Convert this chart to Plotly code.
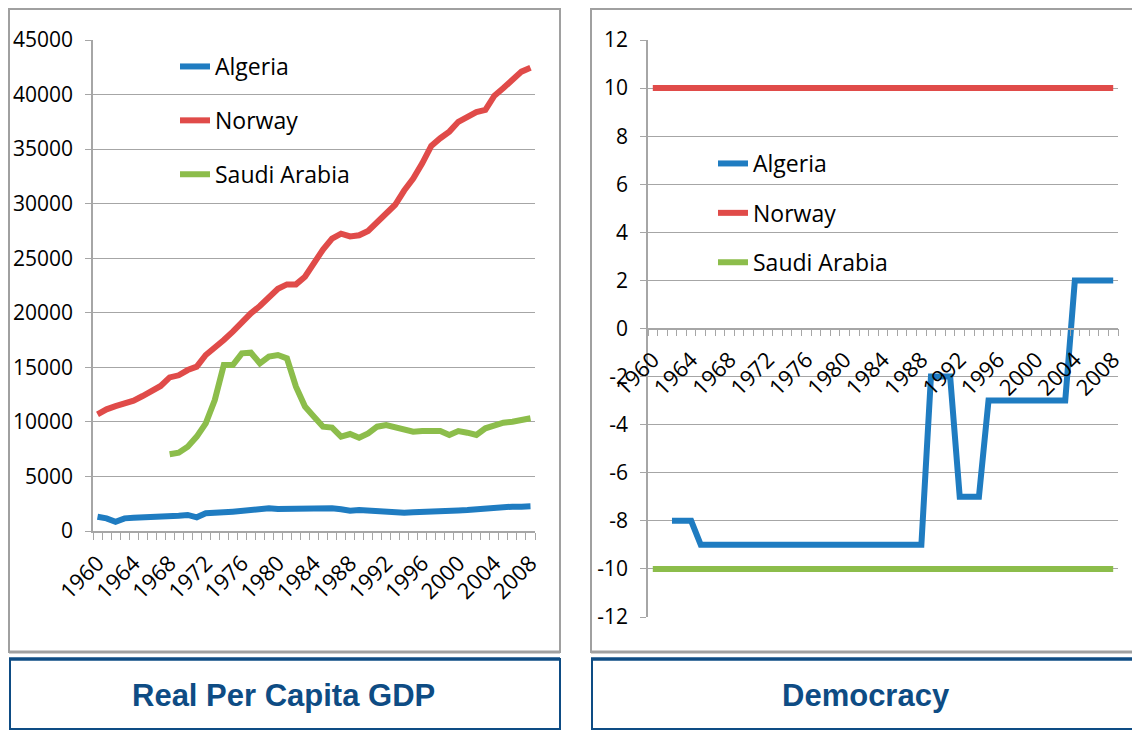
import plotly.graph_objects as go

W, H = 1140, 730
OFF = 8  # page body margin, figure starts at (8, 8) in the window

years = list(range(1960, 2009))
tick_years = list(range(1960, 2009, 4))

# real per capita GDP
gdp_algeria = [
    1310, 1160, 850, 1160, 1220, 1250, 1220, 1220, 1310, 1400,
    1470, 1250, 1620, 1620, 1710, 1770, 1860, 1920, 2010, 2080,
    2010, 2010, 2080, 2110, 2140, 2140, 2080, 1990, 1860, 1920,
    1860, 1800, 1800, 1710, 1680, 1710, 1770, 1770, 1830, 1860,
    1890, 1920, 1990, 2080, 2170, 2200, 2230, 2230, 2260,
]
gdp_norway = [
    10690, 11150, 11450, 11640, 11950, 12370, 12860, 13290, 14080, 14270,
    14750, 15060, 16130, 16740, 17500, 18270, 19180, 19950, 20620, 21400,
    22200, 22600, 22600, 23300, 24600, 25800, 26800, 27250, 27000, 27100,
    27500, 28300, 29200, 29900, 31200, 32300, 33700, 35300, 36000, 36600,
    37500, 38000, 38400, 38600, 39900, 40600, 41300, 42100, 42450,
]
saudi_years = list(range(1968, 2009))
gdp_saudi = [
    7030, 7180, 7730, 8650, 9870, 12000, 15210, 15210, 16280, 16340,
    15370, 15980, 16130, 15820, 13230, 11400, 10480, 9560, 9480, 8650,
    8890, 8550, 8950, 9560, 9710, 9500, 9320, 9100, 9160, 9190,
    9160, 8800, 9160, 9010, 8800, 9410, 9710, 9930, 10020, 10110,
    10330,
]

# democracy score
algeria_years = list(range(1962, 2009))
dem_algeria = [-8, -8, -8] + [-9] * 24 + [-2] * 3 + [-7] * 3 + [-3] * 9 + [2] * 5
dem_norway = [10] * len(years)
dem_saudi = [-10] * len(years)

gdp_ticks = list(range(0, 45001, 5000))
dem_ticks = list(range(-12, 13, 2))

names = ["Algeria", "Norway", "Saudi Arabia"]
colors = ["#1F7CC1", "#E04B49", "#8CBD4B"]

FONT = "Open Sans, Lato, sans-serif"
GRID = "#A6A6A6"
NAVY = "#0E4C84"


def px_x(x):
    return (x - OFF) / W


def px_y(y):
    return 1 - (y - OFF) / H


fig = go.Figure()

gdp_series = [(years, gdp_algeria), (years, gdp_norway), (saudi_years, gdp_saudi)]
for name, color, (xs, ys) in zip(names, colors, gdp_series):
    fig.add_trace(go.Scatter(
        x=xs, y=ys, name=name, mode="lines",
        line=dict(color=color, width=6),
        xaxis="x", yaxis="y", legend="legend", legendgroup="l" + name,
    ))

dem_series = [(algeria_years, dem_algeria), (years, dem_norway), (years, dem_saudi)]
for name, color, (xs, ys) in zip(names, colors, dem_series):
    fig.add_trace(go.Scatter(
        x=xs, y=ys, name=name, mode="lines",
        line=dict(color=color, width=6),
        xaxis="x2", yaxis="y2", legend="legend2", legendgroup="r" + name,
    ))

xcommon = dict(
    range=[1959.5, 2008.5],
    tickmode="array", tickvals=tick_years, ticktext=[str(t) for t in tick_years],
    tickangle=-45, ticks="", automargin=False, ticklabelstandoff=9,
    tickfont=dict(family=FONT, size=22, color="black"),
    showgrid=False, zeroline=False,
    showline=True, linecolor=GRID, linewidth=1.5,
    minor=dict(
        tickmode="array", tickvals=[y - 0.5 for y in years] + [2008.5],
        ticks="outside", ticklen=7, tickcolor=GRID, tickwidth=1, showgrid=False,
    ),
)
ycommon = dict(
    tickmode="array", automargin=False, ticklabelstandoff=8,
    tickfont=dict(family=FONT, size=21, color="black"),
    ticks="outside", ticklen=6, tickcolor=GRID,
    showgrid=True, gridcolor=GRID, gridwidth=1.3,
    zeroline=False, showline=True, linecolor=GRID, linewidth=1.5,
)

y2_dom = [px_y(617), px_y(40)]

fig.update_layout(
    width=W, height=H,
    margin=dict(l=0, r=0, t=0, b=0, autoexpand=False),
    paper_bgcolor="white", plot_bgcolor="white",
    showlegend=True,
    xaxis=dict(domain=[px_x(93), px_x(535)], anchor="y", **xcommon),
    yaxis=dict(domain=[px_y(531), px_y(40)], anchor="x", range=[0, 45000],
               tickvals=gdp_ticks, ticktext=[str(v) for v in gdp_ticks], **ycommon),
    xaxis2=dict(domain=[px_x(648), px_x(1118)], anchor="free",
                position=(y2_dom[0] + y2_dom[1]) / 2, **xcommon),
    yaxis2=dict(domain=y2_dom, anchor="x2", range=[-12, 12],
                tickvals=dem_ticks, ticktext=[str(v) for v in dem_ticks], **ycommon),
    legend=dict(
        x=px_x(175), y=px_y(45), xanchor="left", yanchor="top",
        bgcolor="rgba(0,0,0,0)", font=dict(family=FONT, size=23, color="black"),
        tracegroupgap=21,
    ),
    legend2=dict(
        x=px_x(713), y=px_y(142), xanchor="left", yanchor="top",
        bgcolor="rgba(0,0,0,0)", font=dict(family=FONT, size=23, color="black"),
        tracegroupgap=16.5,
    ),
)

# panel frames and title boxes
for x0, x1 in [(9, 560), (591, 1150)]:
    fig.add_shape(type="rect", xref="paper", yref="paper",
                  x0=px_x(x0), x1=px_x(x1), y0=px_y(652), y1=px_y(9),
                  line=dict(color="#A0A0A0", width=2), fillcolor="rgba(0,0,0,0)",
                  layer="below")
    fig.add_shape(type="line", xref="paper", yref="paper",
                  x0=px_x(x0), x1=px_x(x1), y0=px_y(652), y1=px_y(652),
                  line=dict(color="#A0A0A0", width=3))
    fig.add_shape(type="rect", xref="paper", yref="paper",
                  x0=px_x(x0 + 1), x1=px_x(x1), y0=px_y(729), y1=px_y(659),
                  line=dict(color=NAVY, width=2), fillcolor="rgba(0,0,0,0)")
    fig.add_shape(type="line", xref="paper", yref="paper",
                  x0=px_x(x0), x1=px_x(x1), y0=px_y(659), y1=px_y(659),
                  line=dict(color=NAVY, width=3.5))

for cx, title in [(283.5, "Real Per Capita GDP"), (865.5, "Democracy")]:
    fig.add_annotation(
        x=px_x(cx), y=px_y(695), xref="paper", yref="paper",
        text="<b>" + title + "</b>", showarrow=False,
        xanchor="center", yanchor="middle",
        font=dict(family="Liberation Sans, Arial, sans-serif", size=31, color=NAVY),
    )

fig.write_html("out.html")
